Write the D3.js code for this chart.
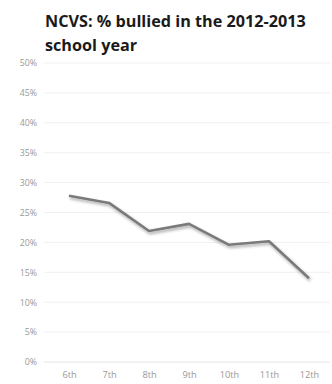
<!DOCTYPE html>
<html>
<head>
<meta charset="utf-8">
<script src="https://cdn.jsdelivr.net/npm/d3@7"></script>
<style>
  html, body { margin: 0; padding: 0; background: #fff; }
  svg { display: block; }
</style>
</head>
<body>
<script>
// Share of students bullied, by grade, 2012-2013 school year (NCVS)
const grades = ["6th", "7th", "8th", "9th", "10th", "11th", "12th"];
const bulliedPct = [27.8, 26.6, 21.9, 23.1, 19.6, 20.2, 14.0];
const yTicks = [0, 5, 10, 15, 20, 25, 30, 35, 40, 45, 50];
const titleLines = ["NCVS: % bullied in the 2012-2013", "school year"];

const W = 332, H = 384;
const margin = { top: 63, right: 3, bottom: 22, left: 49 };

const svg = d3.select("body").append("svg")
  .attr("width", W).attr("height", H);

// soft drop shadow under the line
const defs = svg.append("defs");
const f = defs.append("filter").attr("id", "shadow")
  .attr("x", "-10%").attr("y", "-20%").attr("width", "130%").attr("height", "160%");
f.append("feDropShadow").attr("dx", 1.2).attr("dy", 2).attr("stdDeviation", 1.4)
  .attr("flood-color", "#000").attr("flood-opacity", 0.35);

const x = d3.scalePoint().domain(grades)
  .range([margin.left + 20, W - margin.right - 20]);
const y = d3.scaleLinear().domain([0, 50])
  .range([H - margin.bottom, margin.top]);

// title
svg.append("g").selectAll("text").data(titleLines).join("text")
  .attr("x", 45).attr("y", (d, i) => 27 + i * 23.5)
  .attr("font-family", "'Open Sans', sans-serif")
  .attr("font-weight", "bold")
  .attr("font-size", 16.2)
  .attr("fill", "#1a1a1a")
  .text(d => d);

// gridlines
svg.append("g").selectAll("line").data(yTicks).join("line")
  .attr("x1", 44).attr("x2", W - 2)
  .attr("y1", d => y(d)).attr("y2", d => y(d))
  .attr("stroke", d => d === 0 ? "#e4e4e4" : "#f0f0f0")
  .attr("stroke-width", 1);

// y axis labels
const yAxis = d3.axisLeft(y).tickValues(yTicks).tickFormat(d => d + "%").tickSize(0).tickPadding(0);
svg.append("g").attr("transform", "translate(37,0)").call(yAxis)
  .call(g => g.select(".domain").remove())
  .call(g => g.selectAll("text")
    .attr("font-family", "'Open Sans', sans-serif")
    .attr("font-size", 8.8).attr("fill", "#999"));

// x axis labels
const xAxis = d3.axisBottom(x).tickSize(0).tickPadding(0);
svg.append("g").attr("transform", `translate(0,${y(0) + 9})`).call(xAxis)
  .call(g => g.select(".domain").remove())
  .call(g => g.selectAll("text")
    .attr("font-family", "'Open Sans', sans-serif")
    .attr("font-size", 9.2).attr("fill", "#999"));

// data line
const line = d3.line().x((d, i) => x(grades[i])).y(d => y(d));
svg.append("path").datum(bulliedPct)
  .attr("d", line)
  .attr("fill", "none")
  .attr("stroke", "#7a7a7a")
  .attr("stroke-width", 2.6)
  .attr("stroke-linejoin", "round")
  .attr("filter", "url(#shadow)");
</script>
</body>
</html>
